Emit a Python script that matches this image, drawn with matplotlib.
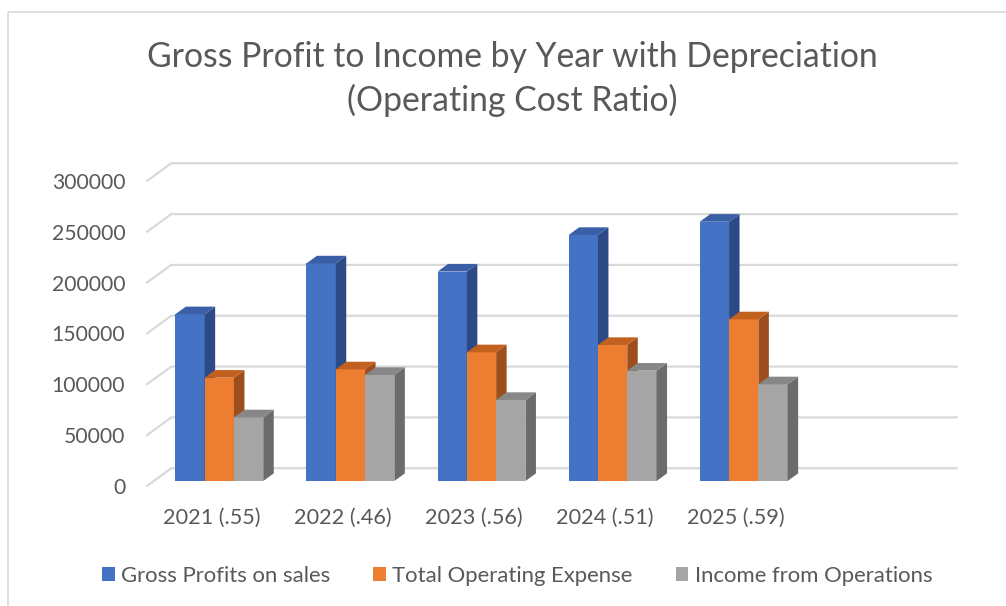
import matplotlib
matplotlib.use('Agg')
import matplotlib.pyplot as plt
from matplotlib.patches import Polygon
from matplotlib.lines import Line2D
from matplotlib.transforms import offset_copy
import numpy as np

# ---------------- data ----------------
categories = ['2021 (.55)', '2022 (.46)', '2023 (.56)', '2024 (.51)', '2025 (.59)']
gross_profit = [164000, 214000, 206000, 242000, 255000]
operating_expense = [101600, 109800, 126600, 133800, 159000]
income_ops = [62600, 104300, 79700, 108500, 95100]
series_names = ['Gross Profits on sales', 'Total Operating Expense', 'Income from Operations']
y_ticks = [0, 50000, 100000, 150000, 200000, 250000, 300000]
title_lines = ['Gross Profit to Income by Year with Depreciation', '(Operating Cost Ratio)']

# ---------------- style ----------------
plt.rcParams['font.family'] = ['Lato', 'DejaVu Sans']
TEXT = '#595959'
GRID = '#D9D9D9'
colors = [
    dict(front='#4472C4', top='#3A5FA6', side='#2C4A85'),
    dict(front='#ED7D31', top='#C2601F', side='#9E4E1C'),
    dict(front='#A5A5A5', top='#878787', side='#6B6B6B'),
]

W, H = 1006, 606
fig = plt.figure(figsize=(W / 100, H / 100), dpi=100)
ax = fig.add_axes([0, 0, 1, 1])

PX_PER_CAT = 131.1
PX_PER_VAL = 305 / 300000
X0 = 219.3   # pixel x of category 0 on the bars' front plane
Y0 = 481.0   # pixel y (from top) of value 0 on the bars' front plane
ax.set_xlim(-X0 / PX_PER_CAT, (W - X0) / PX_PER_CAT)
ax.set_ylim(-(H - Y0) / PX_PER_VAL, Y0 / PX_PER_VAL)
ax.axis('off')

DEPTH_DX, DEPTH_DY = 25.0, 18.2
F_FRONT, F_BACK = 0.30, 0.72


def depth(f):
    return (f - F_FRONT) * DEPTH_DX / PX_PER_CAT, (f - F_FRONT) * DEPTH_DY / PX_PER_VAL


n_slots = len(categories) + 1
left_edge, right_edge = -0.5, n_slots - 0.5
dcf, dvf = depth(0.0)
dcb, dvb = depth(1.0)

# gridlines (floor diagonal + back wall)
for v in y_ticks:
    ax.plot([left_edge + dcf, left_edge + dcb, right_edge + dcb],
            [v + dvf, v + dvb, v + dvb], color=GRID, lw=1.6, zorder=1,
            solid_joinstyle='miter', solid_capstyle='butt')

# bars
bar_w = 29.3 / PX_PER_CAT
x = np.arange(len(categories))
dcd, dvd = depth(F_BACK)
handles = []
for i, (vals, name, c) in enumerate(zip([gross_profit, operating_expense, income_ops],
                                         series_names, colors)):
    bars = ax.bar(x + (i - 1) * bar_w, vals, width=bar_w, color=c['front'],
                  zorder=2 + i, label=name, linewidth=0)
    handles.append(bars)
    for r in bars:
        x0, w, h = r.get_x(), r.get_width(), r.get_height()
        x1 = x0 + w
        side = [(x1, 0), (x1, h), (x1 + dcd, h + dvd), (x1 + dcd, dvd)]
        top = [(x0, h), (x1, h), (x1 + dcd, h + dvd), (x0 + dcd, h + dvd)]
        ax.add_patch(Polygon(side, closed=True, facecolor=c['side'], edgecolor='none', zorder=2 + i))
        ax.add_patch(Polygon(top, closed=True, facecolor=c['top'], edgecolor='none', zorder=2 + i))

# y tick labels
tick_tr = offset_copy(ax.transData, fig=fig, x=-21, y=-1.5, units='dots')
for v in y_ticks:
    ax.text(left_edge + dcf, v + dvf, f'{v}', transform=tick_tr, ha='right', va='center',
            fontsize=15.2, color=TEXT)

# category labels
cat_tr = offset_copy(ax.transData, fig=fig, x=0, y=-31.5, units='dots')
for k, cat in enumerate(categories):
    ax.text(k + dcf, dvf, cat, transform=cat_tr, ha='center', va='center',
            fontsize=15.6, color=TEXT)

# title
fig.text(512.5 / W, 1 - 66.7 / H, title_lines[0], ha='center', va='baseline',
         fontsize=24.3, color=TEXT)
fig.text(512.5 / W, 1 - 111 / H, title_lines[1], ha='center', va='baseline',
         fontsize=24.3, color=TEXT)

# legend
fig.legend(handles=handles, labels=series_names, loc='center',
           bbox_to_anchor=(517 / W, 1 - 576 / H), ncol=3, frameon=False,
           handlelength=0.58, handleheight=0.58, handletextpad=0.28,
           columnspacing=1.95, fontsize=15.9, labelcolor=TEXT)

# chart border (top and left visible)
fig.add_artist(Line2D([8 / W, 8 / W, 1], [0, 1 - 11.7 / H, 1 - 11.7 / H],
                      color=GRID, lw=1.2, transform=fig.transFigure))

fig.savefig('out.png', dpi=100, facecolor='white')
